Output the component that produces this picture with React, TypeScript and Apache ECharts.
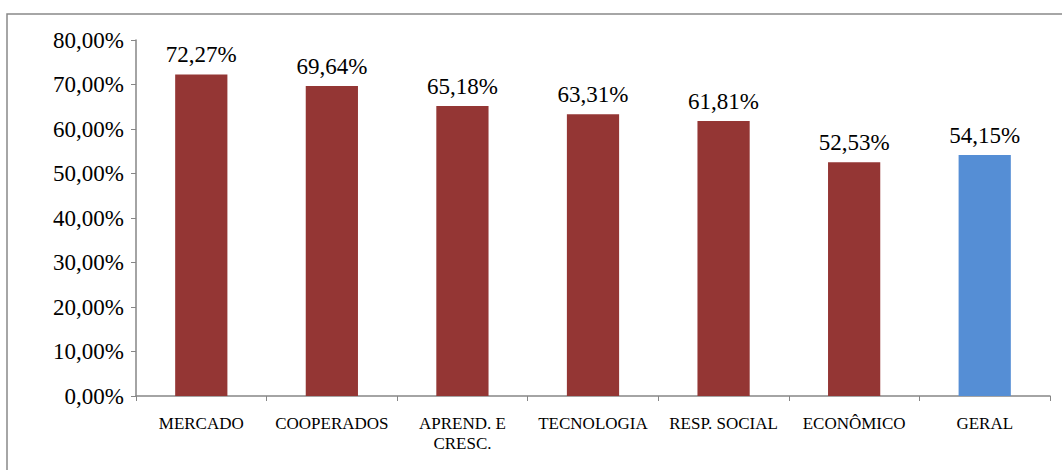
import React, { useEffect, useRef } from "react";
import * as echarts from "echarts";

const categories = ["MERCADO", "COOPERADOS", "APREND. E\nCRESC.", "TECNOLOGIA", "RESP. SOCIAL", "ECONÔMICO", "GERAL"];
const values = [72.27, 69.64, 65.18, 63.31, 61.81, 52.53, 54.15];
const barColors = ["#943634", "#943634", "#943634", "#943634", "#943634", "#943634", "#558ED5"];

const fmt = (v: number) => v.toFixed(2).replace(".", ",") + "%";
const FONT = "Liberation Serif";

export default function App() {
  const ref = useRef<HTMLDivElement>(null);
  useEffect(() => {
    const chart = echarts.init(ref.current!, null, { renderer: "svg" });
    chart.setOption({
      animation: false,
      backgroundColor: "#ffffff",
      textStyle: { fontFamily: FONT },
      grid: { left: 136, right: 12, top: 40, bottom: 74 },
      graphic: [
        {
          type: "rect",
          shape: { x: 7, y: 14, width: 1200, height: 600 },
          style: { fill: "none", stroke: "#898989", lineWidth: 1.5 },
          silent: true,
        },
      ],
      xAxis: {
        type: "category",
        data: categories,
        axisLine: { show: true, lineStyle: { color: "#868686", width: 1.5 } },
        axisTick: { show: true, length: 5, alignWithLabel: false, lineStyle: { color: "#868686" } },
        axisLabel: { fontFamily: FONT, fontSize: 17, color: "#000", margin: 17, lineHeight: 20, interval: 0 },
      },
      yAxis: {
        type: "value",
        min: 0,
        max: 80,
        interval: 10,
        splitLine: { show: false },
        axisLine: { show: true, lineStyle: { color: "#868686", width: 1.5 } },
        axisTick: { show: true, length: 5, lineStyle: { color: "#868686" } },
        axisLabel: { fontFamily: FONT, fontSize: 23, color: "#000", margin: 12, formatter: (v: number) => fmt(v) },
      },
      series: [
        {
          type: "bar",
          data: values.map((v, i) => ({ value: v, itemStyle: { color: barColors[i] } })),
          barCategoryGap: "60%",
          label: {
            show: true,
            position: "top",
            distance: 8,
            fontFamily: FONT,
            fontSize: 23,
            color: "#000",
            formatter: (p: any) => fmt(p.value),
          },
        },
      ],
    });
    return () => chart.dispose();
  }, []);
  return <div ref={ref} style={{ position: "fixed", left: 0, top: 0, width: 1062, height: 470 }} />;
}
